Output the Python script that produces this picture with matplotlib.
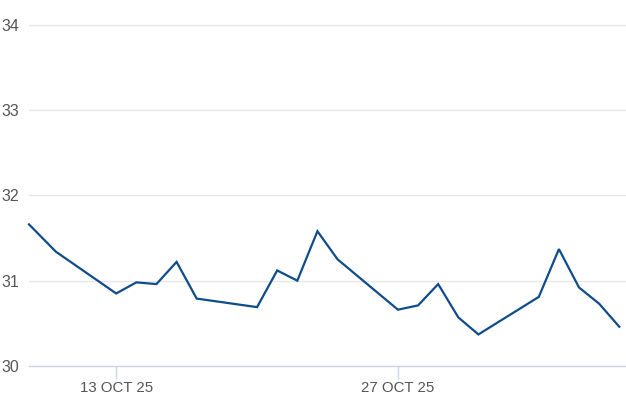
import matplotlib
matplotlib.use("Agg")
import matplotlib.pyplot as plt
import pandas as pd

dates = ["2025-10-08 16:00", "2025-10-10 00:00", "2025-10-13 00:00", "2025-10-14 00:00",
         "2025-10-15 00:00", "2025-10-16 00:00", "2025-10-17 00:00", "2025-10-20 00:00",
         "2025-10-21 00:00", "2025-10-22 00:00", "2025-10-23 00:00", "2025-10-24 00:00",
         "2025-10-27 00:00", "2025-10-28 00:00", "2025-10-29 00:00", "2025-10-30 00:00",
         "2025-10-31 00:00", "2025-11-03 00:00", "2025-11-04 00:00", "2025-11-05 00:00",
         "2025-11-06 00:00", "2025-11-07 00:00"]
values = [31.66, 31.34, 30.85, 30.98, 30.96, 31.22, 30.79, 30.69, 31.12, 31.00,
          31.58, 31.25, 30.66, 30.71, 30.96, 30.57, 30.37, 30.81, 31.37, 30.92,
          30.73, 30.46]
y_ticks = [30, 31, 32, 33, 34]
x_ticks = ["2025-10-13", "2025-10-27"]
x_tick_labels = ["13 OCT 25", "27 OCT 25"]

x = pd.to_datetime(dates, format="%Y-%m-%d %H:%M")

plt.rcParams['font.family'] = ['Liberation Sans', 'DejaVu Sans']
fig = plt.figure(figsize=(6.26, 4.17), dpi=100)
ax = fig.add_axes([29/626, (417-366)/417, 1 - 29/626, (366-23)/417])

ax.plot(x, values, color='#0f4c8a', lw=1.6, solid_joinstyle='miter', clip_on=False)

ax.set_xlim(x[0], pd.Timestamp("2025-11-07 08:00"))
ax.set_ylim(30, 34.02)
ax.set_yticks(y_ticks)
ax.set_yticklabels([str(v) for v in y_ticks])
ax.set_xticks(pd.to_datetime(x_ticks))
ax.set_xticklabels(x_tick_labels)

for s in ['top', 'right', 'left']:
    ax.spines[s].set_visible(False)
ax.spines['bottom'].set_color('#ccd6eb')
ax.spines['bottom'].set_linewidth(1)

ax.grid(axis='y', color='#e6e6e6', lw=1)
ax.set_axisbelow(True)
ax.tick_params(axis='y', length=0, pad=7, labelsize=11.5, labelcolor='#555555')
ax.tick_params(axis='x', length=9, width=1, color='#ccd6eb', pad=2,
               labelsize=10.8, labelcolor='#555555')

fig.savefig("out.png", dpi=100)
